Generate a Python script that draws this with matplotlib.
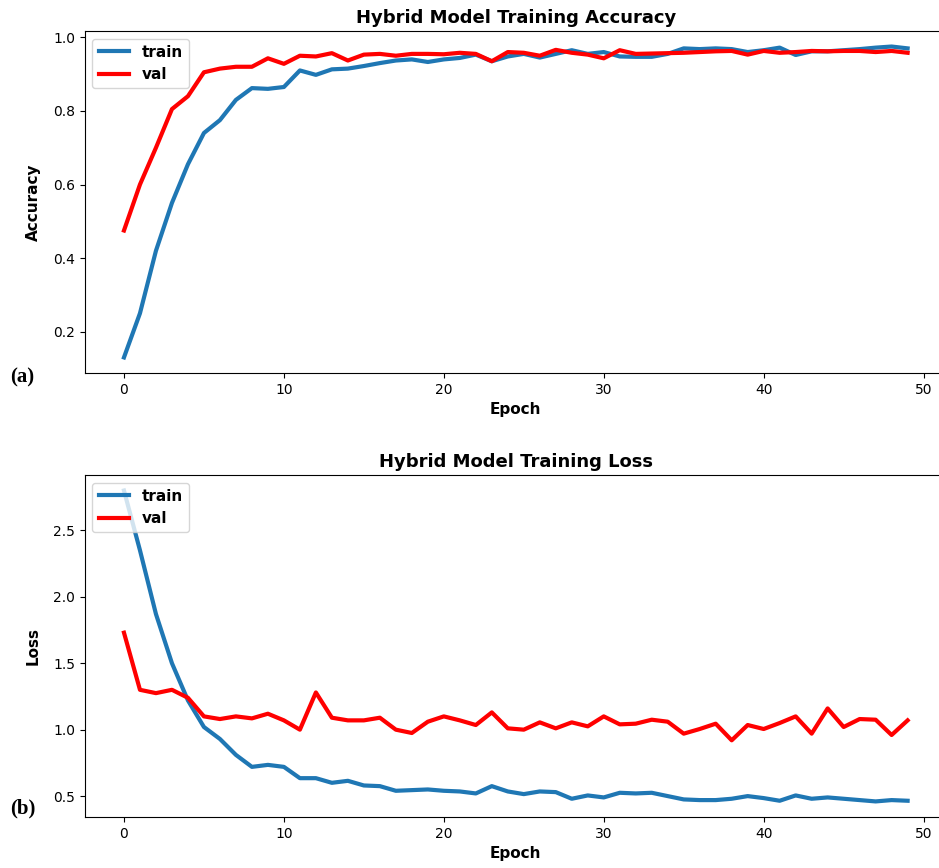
import matplotlib
matplotlib.use("Agg")
import matplotlib.pyplot as plt

epochs = list(range(50))

acc_train = [0.13, 0.25, 0.42, 0.55, 0.655, 0.74, 0.775, 0.83, 0.862, 0.86,
             0.865, 0.91, 0.898, 0.913, 0.915, 0.922, 0.93, 0.937, 0.94, 0.933,
             0.94, 0.944, 0.953, 0.935, 0.948, 0.955, 0.945, 0.955, 0.965, 0.955,
             0.96, 0.948, 0.947, 0.947, 0.955, 0.97, 0.968, 0.97, 0.968, 0.96,
             0.965, 0.972, 0.952, 0.962, 0.962, 0.965, 0.968, 0.972, 0.975, 0.97]
acc_val = [0.475, 0.6, 0.7, 0.805, 0.84, 0.905, 0.915, 0.92, 0.92, 0.943,
           0.928, 0.95, 0.948, 0.957, 0.937, 0.953, 0.955, 0.95, 0.955, 0.955,
           0.954, 0.958, 0.955, 0.935, 0.96, 0.958, 0.95, 0.966, 0.958, 0.953,
           0.943, 0.965, 0.955, 0.956, 0.957, 0.958, 0.96, 0.962, 0.963, 0.953,
           0.963, 0.958, 0.96, 0.963, 0.962, 0.963, 0.963, 0.96, 0.963, 0.958]

loss_train = [2.8, 2.35, 1.87, 1.5, 1.22, 1.02, 0.93, 0.81, 0.72, 0.735,
              0.72, 0.635, 0.635, 0.6, 0.615, 0.58, 0.575, 0.54, 0.545, 0.55,
              0.54, 0.535, 0.52, 0.575, 0.535, 0.515, 0.535, 0.53, 0.48, 0.505,
              0.49, 0.525, 0.52, 0.525, 0.5, 0.475, 0.47, 0.47, 0.48, 0.5,
              0.485, 0.465, 0.505, 0.48, 0.49, 0.48, 0.47, 0.46, 0.47, 0.465]
loss_val = [1.73, 1.3, 1.275, 1.3, 1.24, 1.1, 1.08, 1.1, 1.085, 1.12,
            1.07, 1.0, 1.28, 1.09, 1.07, 1.07, 1.09, 1.0, 0.975, 1.06,
            1.1, 1.07, 1.035, 1.13, 1.01, 1.0, 1.055, 1.01, 1.055, 1.025,
            1.1, 1.04, 1.045, 1.075, 1.06, 0.97, 1.005, 1.045, 0.92, 1.035,
            1.005, 1.05, 1.1, 0.97, 1.16, 1.02, 1.08, 1.075, 0.96, 1.07]

fig = plt.figure(figsize=(9.39, 8.68), dpi=100)
# right edge of the axes is cut off by the picture, as in the original crop
ax1 = fig.add_axes([0.0903, 0.5703, 0.918, 0.394])
ax2 = fig.add_axes([0.0903, 0.0588, 0.918, 0.394])

panels = [
    (ax1, acc_train, acc_val, "Hybrid Model Training Accuracy", "Accuracy"),
    (ax2, loss_train, loss_val, "Hybrid Model Training Loss", "Loss"),
]
for ax, tr, va, title, ylab in panels:
    ax.plot(epochs, tr, color="#1f77b4", linewidth=3, label="train")
    ax.plot(epochs, va, color="red", linewidth=3, label="val")
    ax.set_title(title, fontsize=13, fontweight="bold")
    ax.set_xlabel("Epoch", fontsize=11, fontweight="bold")
    ax.set_ylabel(ylab, fontsize=11, fontweight="bold", labelpad=9)
    ax.legend(loc="upper left", prop={"weight": "bold", "size": 11})
    ax.spines["right"].set_visible(False)

fig.text(0.011, 0.559, "(a)", family="Liberation Serif", fontweight="bold", fontsize=15)
fig.text(0.011, 0.063, "(b)", family="Liberation Serif", fontweight="bold", fontsize=15)

fig.savefig("out.png", dpi=100)
